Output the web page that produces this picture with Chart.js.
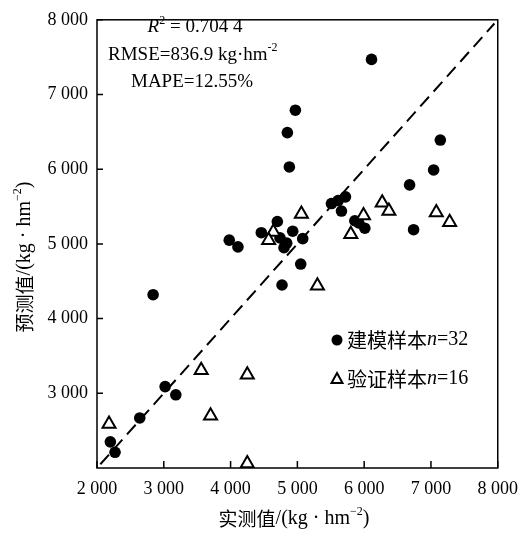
<!DOCTYPE html>
<html>
<head>
<meta charset="utf-8">
<script src="https://cdn.jsdelivr.net/npm/chart.js@4/dist/chart.umd.min.js"></script>
<style>
  html, body { margin: 0; padding: 0; background: #fff; }
</style>
</head>
<body>
<canvas id="chart" width="528" height="533"></canvas>
<script>
// 建模样本 (实测值, 预测值)
const modelX = [2840, 3020, 3180, 2640, 2200, 2270, 3980, 4110, 4460, 4700, 4930, 4840, 5080, 5050, 4770, 6110,
                4970, 4850, 4880, 7140, 7040, 6680, 6740, 5510, 5720, 5660, 5860, 6010, 5610, 5920, 4800, 4740];
const modelY = [4320, 3090, 2980, 2670, 2350, 2210, 5050, 4960, 5150, 5300, 5170, 5010, 5070, 4730, 4450, 7470,
                6790, 6490, 6030, 6390, 5990, 5790, 5190, 5540, 5630, 5440, 5310, 5210, 5580, 5280, 4950, 5080];
// 验证样本
const validX = [2180, 3560, 3700, 4250, 4250, 4640, 4570, 5060, 5300, 7080, 7280, 6270, 6370, 5990, 5800];
const validY = [2590, 3310, 2700, 3250, 2060, 5160, 5050, 5400, 4440, 5420, 5290, 5550, 5440, 5380, 5130];
// 1:1 线
const lineX = [2050, 7950];
const xTicks = [2000, 3000, 4000, 5000, 6000, 7000, 8000];
const yTicks = [3000, 4000, 5000, 6000, 7000, 8000];

const SERIF = '"Liberation Serif", "Times New Roman", "Noto Sans CJK SC", serif';
const CJK = '"Noto Sans CJK SC", sans-serif';

function fmt(v) {
    return String(v).replace(/\B(?=(\d{3})+(?!\d))/g, ' ');
}

function toPoints(xs, ys) {
    return xs.map((x, i) => ({ x: x, y: ys[i] }));
}

// 画混合字体的一行文字
function drawRuns(ctx, runs, x, y, align) {
    let w = 0;
    runs.forEach(r => { ctx.font = r.font; w += ctx.measureText(r.t).width; });
    let cx = align === 'center' ? x - w / 2 : x;
    runs.forEach(r => {
        ctx.font = r.font;
        ctx.fillText(r.t, cx, y + (r.dy || 0));
        cx += ctx.measureText(r.t).width;
    });
}

const framePlugin = {
    id: 'frame',
    afterDraw(chart) {
        const ctx = chart.ctx;
        const a = chart.chartArea;
        const xs = chart.scales.x, ys = chart.scales.y;
        ctx.save();
        ctx.strokeStyle = '#000';
        ctx.lineWidth = 1.5;
        ctx.strokeRect(a.left, a.top, a.right - a.left, a.bottom - a.top);
        // 向内的刻度
        ctx.beginPath();
        xTicks.forEach(v => {
            const px = xs.getPixelForValue(v);
            ctx.moveTo(px, a.bottom);
            ctx.lineTo(px, a.bottom - 7);
        });
        yTicks.forEach(v => {
            const py = ys.getPixelForValue(v);
            ctx.moveTo(a.left, py);
            ctx.lineTo(a.left + 6, py);
        });
        ctx.stroke();

        ctx.fillStyle = '#000';
        ctx.textBaseline = 'middle';
        ctx.textAlign = 'left';
        const f = '19px ' + SERIF;
        const fi = 'italic 19px ' + SERIF;
        const fs = '12px ' + SERIF;
        drawRuns(ctx, [{ t: 'R', font: fi }, { t: '2', font: fs, dy: -6 }, { t: ' = 0.704 4', font: f }], 195, 27, 'center');
        drawRuns(ctx, [{ t: 'RMSE=836.9 kg\u00b7hm', font: f }, { t: '-2', font: fs, dy: -7 }], 108, 55, 'left');
        drawRuns(ctx, [{ t: 'MAPE=12.55%', font: f }], 131, 82, 'left');

        // 图例
        ctx.beginPath();
        ctx.arc(337, 340, 5.5, 0, Math.PI * 2);
        ctx.fill();
        ctx.beginPath();
        ctx.moveTo(337, 373);
        ctx.lineTo(342.5, 383);
        ctx.lineTo(331.5, 383);
        ctx.closePath();
        ctx.lineWidth = 2;
        ctx.stroke();
        const fl = '20px ' + CJK;
        const fn = 'italic 20px ' + SERIF;
        const fr = '20px ' + SERIF;
        drawRuns(ctx, [{ t: '建模样本', font: fl }, { t: 'n', font: fn }, { t: '=32', font: fr }], 347, 340, 'left');
        drawRuns(ctx, [{ t: '验证样本', font: fl }, { t: 'n', font: fn }, { t: '=16', font: fr }], 347, 379, 'left');

        // 坐标轴标题
        const ft = '19px ' + CJK;
        const fu = '20px ' + SERIF;
        const fsu = '12px ' + SERIF;
        const titleRuns = (name) => [
            { t: name, font: ft }, { t: '/(kg \u00b7 hm', font: fu }, { t: '\u22122', font: fsu, dy: -7 }, { t: ')', font: fu }
        ];
        drawRuns(ctx, titleRuns('实测值'), 294, 519, 'center');
        ctx.translate(25, 257);
        ctx.rotate(-Math.PI / 2);
        drawRuns(ctx, titleRuns('预测值'), 0, 0, 'center');
        ctx.restore();
    }
};

new Chart(document.getElementById('chart'), {
    type: 'scatter',
    data: {
        datasets: [
            {
                label: '验证样本',
                data: toPoints(validX, validY),
                pointStyle: 'triangle',
                pointRadius: 7.5,
                backgroundColor: '#fff',
                borderColor: '#000',
                borderWidth: 2,
                order: 0
            },
            {
                label: '建模样本',
                data: toPoints(modelX, modelY),
                pointStyle: 'circle',
                pointRadius: 5.8,
                backgroundColor: '#000',
                borderColor: '#000',
                borderWidth: 0,
                order: 1
            },
            {
                label: '1:1',
                type: 'line',
                data: toPoints(lineX, lineX),
                showLine: true,
                borderColor: '#000',
                borderWidth: 2,
                borderDash: [13, 7],
                pointRadius: 0,
                fill: false,
                order: 2
            }
        ]
    },
    options: {
        responsive: false,
        animation: false,
        layout: { padding: { top: 12, right: 30, left: 0, bottom: 0 } },
        plugins: { legend: { display: false }, tooltip: { enabled: false } },
        scales: {
            x: {
                type: 'linear',
                min: 2000,
                max: 8000,
                afterBuildTicks: s => { s.ticks = xTicks.map(v => ({ value: v })); },
                afterFit: s => { s.height = 65; },
                grid: { display: false, drawTicks: false },
                border: { display: false },
                ticks: { color: '#000', font: { family: SERIF, size: 18 }, padding: 10, maxRotation: 0, callback: v => fmt(v) }
            },
            y: {
                type: 'linear',
                min: 2000,
                max: 8000,
                afterBuildTicks: s => { s.ticks = yTicks.map(v => ({ value: v })); },
                afterFit: s => { s.width = 97; },
                grid: { display: false, drawTicks: false },
                border: { display: false },
                ticks: { color: '#000', font: { family: SERIF, size: 18 }, padding: 9, callback: v => fmt(v) }
            }
        }
    },
    plugins: [framePlugin]
});
</script>
</body>
</html>
